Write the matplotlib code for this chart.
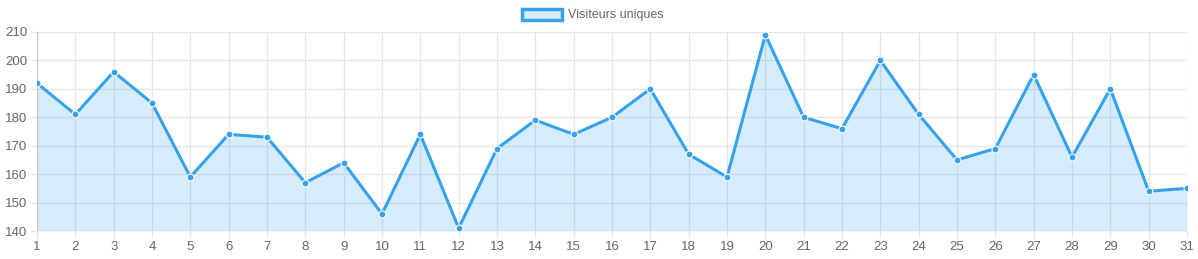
import numpy as np
import matplotlib.pyplot as plt
from matplotlib.patches import Patch

days = list(range(1, 32))
visitors = [192, 181, 196, 185, 159, 174, 173, 157, 164, 146,
            174, 141, 169, 179, 174, 180, 190, 167, 159, 209,
            180, 176, 200, 181, 165, 169, 195, 166, 190, 154, 155]
label = 'Visiteurs uniques'

line_c = '#36A2EB'
fill_c = (54/255, 162/255, 235/255, 0.2)
grid_c = '#e6e6e6'

plt.rcParams['font.family'] = ['Liberation Sans', 'DejaVu Sans']

fig = plt.figure(figsize=(11.98, 2.59), dpi=100)
ax = fig.add_axes([37/1198, 28/259, 1150/1198, 199/259])

ax.fill_between(days, visitors, 140, color=fill_c, lw=0)
ax.plot(days, visitors, color=line_c, lw=2.2, zorder=3,
        marker='o', ms=5, mfc=line_c, mec='white', mew=0.8)

ax.set_xlim(1, 31)
ax.set_ylim(140, 210)
ax.set_xticks(days)
ax.set_yticks(np.arange(140, 211, 10))
ax.grid(True, color=grid_c, lw=1)
ax.set_axisbelow(True)
for s in ax.spines.values():
    s.set_visible(False)
ax.tick_params(colors=grid_c, labelcolor='#666666', labelsize=9.5, length=5, width=1)
ax.tick_params(axis='y', pad=2)
ax.tick_params(axis='x', pad=2)
ax.axhline(140, color='#c8c8c8', lw=1, zorder=1)
ax.axvline(1, color='#c8c8c8', lw=1, zorder=1)

handle = Patch(facecolor=fill_c, edgecolor=line_c, lw=2.5)
fig.legend([handle], [label], loc='center', bbox_to_anchor=(593/1198, 1 - 15/259),
           frameon=False, fontsize=9, labelcolor='#666666',
           handlelength=3.2, handleheight=1.0, handletextpad=0.5)

fig.savefig('out.png', dpi=100)
